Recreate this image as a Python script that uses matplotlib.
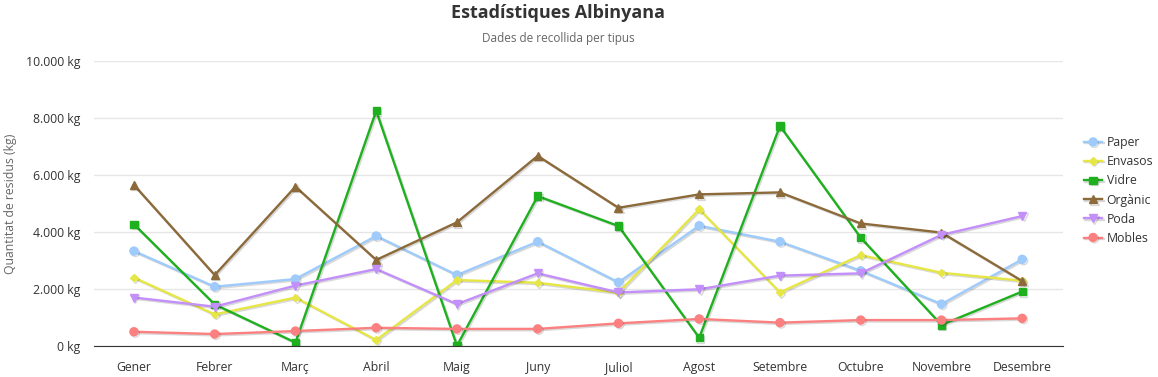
import matplotlib
matplotlib.use('Agg')
import matplotlib.pyplot as plt
import matplotlib.patheffects as pe
from matplotlib.ticker import FuncFormatter

plt.rcParams['font.family'] = ['Open Sans', 'DejaVu Sans']

months = ['Gener', 'Febrer', 'Març', 'Abril', 'Maig', 'Juny', 'Juliol',
          'Agost', 'Setembre', 'Octubre', 'Novembre', 'Desembre']

paper = [3330, 2080, 2350, 3860, 2490, 3660, 2235, 4220, 3660, 2640, 1470, 3040]
envasos = [2400, 1110, 1700, 210, 2315, 2220, 1870, 4800, 1880, 3190, 2570, 2290]
vidre = [4270, 1460, 120, 8250, 10, 5260, 4210, 290, 7720, 3800, 740, 1910]
organic = [5650, 2490, 5590, 3020, 4340, 6670, 4850, 5320, 5390, 4300, 3980, 2280]
poda = [1700, 1380, 2120, 2700, 1470, 2550, 1880, 1990, 2470, 2550, 3900, 4560]
mobles = [500, 420, 525, 640, 600, 600, 795, 950, 820, 910, 910, 970]

series = [
    ('Paper', paper, '#9ecbfb', 'o', 5.8),
    ('Envasos', envasos, '#e6e645', 'D', 3.8),
    ('Vidre', vidre, '#1fb01f', 's', 5.2),
    ('Orgànic', organic, '#8c6a3a', '^', 5.8),
    ('Poda', poda, '#c38ffb', 'v', 5.8),
    ('Mobles', mobles, '#fc8080', 'o', 5.8),
]

fig = plt.figure(figsize=(11.58, 3.77), dpi=100)
ax = fig.add_axes([0.0808, 0.0822, 0.8368, 0.7560])

x = list(range(len(months)))
shadow = [pe.SimpleLineShadow(offset=(1, -1), alpha=0.15, shadow_color='black'), pe.Normal()]
for name, vals, col, mk, ms in series:
    ax.plot(x, vals, color=col, lw=1.7, marker=mk, markersize=ms, label=name,
            path_effects=shadow)

ax.set_xlim(-0.5, len(months) - 0.5)
ax.set_ylim(0, 10000)
ax.set_yticks([0, 2000, 4000, 6000, 8000, 10000])
ax.yaxis.set_major_formatter(FuncFormatter(lambda v, p: '{:,.0f} kg'.format(v).replace(',', '.')))
ax.set_xticks(x)
ax.set_xticklabels(months)
ax.tick_params(axis='both', length=0, labelsize=8.8, colors='#333333')
ax.tick_params(axis='y', pad=9.5)
ax.tick_params(axis='x', pad=11)
ax.grid(axis='y', color='#e6e6e6', lw=1)
ax.set_axisbelow(True)
for s in ['top', 'right', 'left']:
    ax.spines[s].set_visible(False)
ax.spines['bottom'].set_color('#333333')
ax.set_ylabel('Quantitat de residus (kg)', color='#666666', fontsize=8.8)
ax.yaxis.set_label_coords(-0.079, 0.5)

fig.text(0.482, 0.965, 'Estadístiques Albinyana', ha='center', va='center',
         fontsize=13, fontweight='bold', color='#333333')
fig.text(0.482, 0.897, 'Dades de recollida per tipus', ha='center', va='center',
         fontsize=8.5, color='#666666')

ax.legend(loc='center left', bbox_to_anchor=(1.017, 0.5456), frameon=False,
          fontsize=8.8, handlelength=1.5, labelspacing=0.5, handletextpad=0.35,
          labelcolor='#333333', borderaxespad=0)

fig.savefig('out.png', dpi=100)
